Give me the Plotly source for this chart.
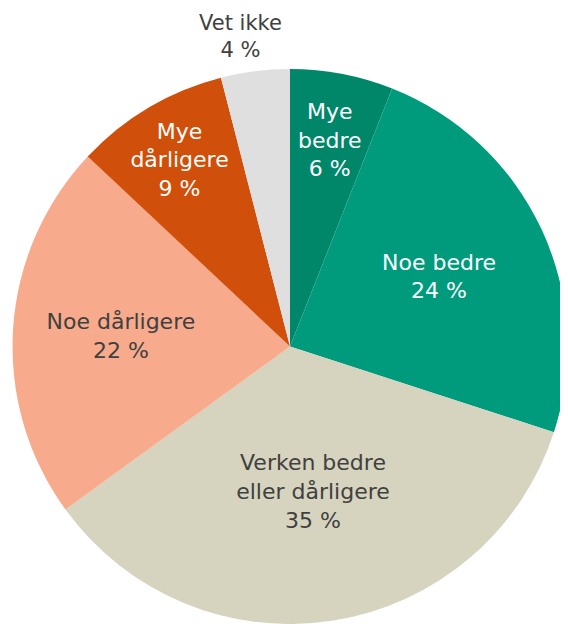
import plotly.graph_objects as go

labels = ["Mye<br>bedre", "Noe bedre", "Verken bedre<br>eller dårligere", "Noe dårligere", "Mye<br>dårligere", "Vet ikke"]
values = [6, 24, 35, 22, 9, 4]
colors = ["#00876a", "#009b7c", "#d6d3be", "#f8aa8c", "#d04f0a", "#dfdfdf"]
text_colors = ["white", "white", "#404040", "#404040", "white", "#404040"]
positions = ["none", "inside", "inside", "inside", "inside", "none"]

W, H = 560, 616  # page body has an 8px margin

fig = go.Figure(go.Pie(
    labels=labels,
    values=values,
    sort=False,
    direction="clockwise",
    rotation=0,
    marker=dict(colors=colors, line=dict(width=0)),
    texttemplate="%{label}<br>%{value} %",
    textposition=positions,
    insidetextorientation="horizontal",
    textfont=dict(family="DejaVu Sans", size=22, color=text_colors),
    showlegend=False,
    hoverinfo="label+value",
    domain=dict(x=[4/W, 1.0], y=[0, 1 - 61/H]),
))

# labels placed as annotations (positions in figure pixels)
ann_pos = {0: (322, 132), 5: (232, 29)}
for i, (px, py) in ann_pos.items():
    fig.add_annotation(
        x=px/W, y=1 - py/H, xref="paper", yref="paper",
        xanchor="center", yanchor="middle",
        text=f"{labels[i]}<br>{values[i]} %", showarrow=False,
        font=dict(family="DejaVu Sans", size=22 if i == 0 else 21, color=text_colors[i]),
    )

fig.update_layout(
    width=W, height=H,
    margin=dict(l=0, r=0, t=0, b=0),
    paper_bgcolor="white",
    uniformtext=dict(minsize=22, mode="show"),
)

fig.write_html("out.html")
